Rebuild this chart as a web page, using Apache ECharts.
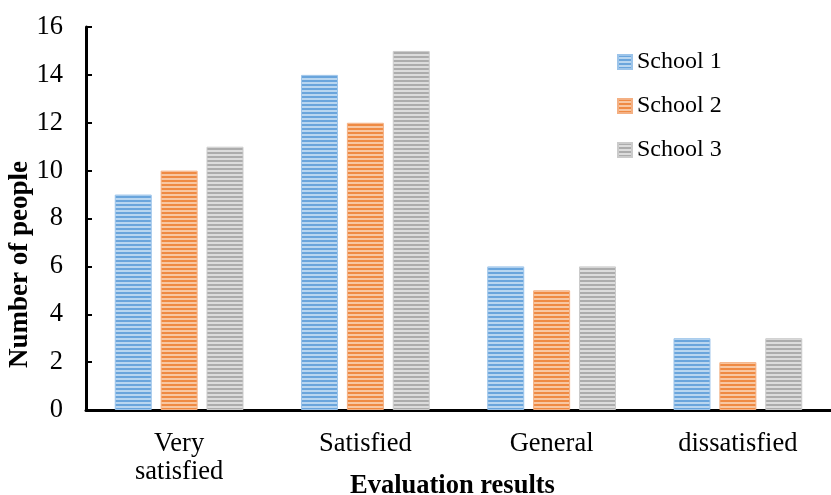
<!DOCTYPE html>
<html><head><meta charset="utf-8">
<script src="https://cdn.jsdelivr.net/npm/echarts@6/dist/echarts.min.js"></script>
<style>html,body{margin:0;padding:0;background:#fff}#c{width:831px;height:495px}</style>
</head><body><div id="c"></div>
<script>
const categories = ['Very\nsatisfied', 'Satisfied', 'General', 'dissatisfied'];
const seriesNames = ['School 1', 'School 2', 'School 3'];
const school1 = [9, 14, 6, 3];
const school2 = [10, 12, 5, 2];
const school3 = [11, 15, 6, 3];
const yTicks = [0, 2, 4, 6, 8, 10, 12, 14, 16];

function stripe(dark, light) {
  const c = document.createElement('canvas');
  c.width = 4; c.height = 4;
  const g = c.getContext('2d');
  g.fillStyle = light; g.fillRect(0, 0, 4, 4);
  g.fillStyle = dark; g.fillRect(0, 0, 4, 2);
  return { image: c, repeat: 'repeat' };
}
const fills = [
  stripe('#6aa5dc', '#b9d6f0'),
  stripe('#ef8a43', '#f8c7a2'),
  stripe('#acacac', '#dcdcdc')
];
const borders = ['#9cc4ea', '#f4b083', '#cbcbcb'];
const data = [school1, school2, school3];
const font = 'Liberation Serif';

const chart = echarts.init(document.getElementById('c'));
chart.setOption({
  animation: false,
  grid: { left: 86, right: -8, top: 27, bottom: 85 },
  legend: {
    orient: 'vertical', left: 612, top: 45, itemGap: 20,
    itemWidth: 14, itemHeight: 14, icon: 'rect',
    textStyle: { fontFamily: font, fontSize: 24, color: '#000', padding: [0, 0, 0, 0] },
    data: seriesNames
  },
  xAxis: {
    type: 'category', data: categories,
    axisLine: { lineStyle: { color: '#000', width: 3 } },
    axisTick: { inside: true, length: 6, lineStyle: { color: '#000', width: 2 } },
    axisLabel: { fontFamily: font, fontSize: 26.5, color: '#000', margin: 20, lineHeight: 28 }
  },
  yAxis: {
    type: 'value', min: yTicks[0], max: yTicks[yTicks.length - 1], interval: 2,
    axisLine: { show: true, lineStyle: { color: '#000', width: 3 } },
    axisTick: { show: true, inside: true, length: 6, lineStyle: { color: '#000', width: 2 } },
    splitLine: { show: false },
    axisLabel: { fontFamily: font, fontSize: 26.5, color: '#000', margin: 23 }
  },
  graphic: [
    { type: 'text', left: 350, top: 473,
      style: { text: 'Evaluation results', font: 'bold 26.5px "Liberation Serif"', fill: '#000' } },
    { type: 'text', x: 7, y: 368, rotation: Math.PI / 2,
      style: { text: 'Number of people', font: 'bold 27px "Liberation Serif"', fill: '#000' } }
  ],
  series: seriesNames.map((n, i) => ({
    name: n, type: 'bar', data: data[i],
    barWidth: 37, barGap: '24%',
    itemStyle: { color: fills[i], borderColor: borders[i], borderWidth: 1 }
  }))
});
</script></body></html>
